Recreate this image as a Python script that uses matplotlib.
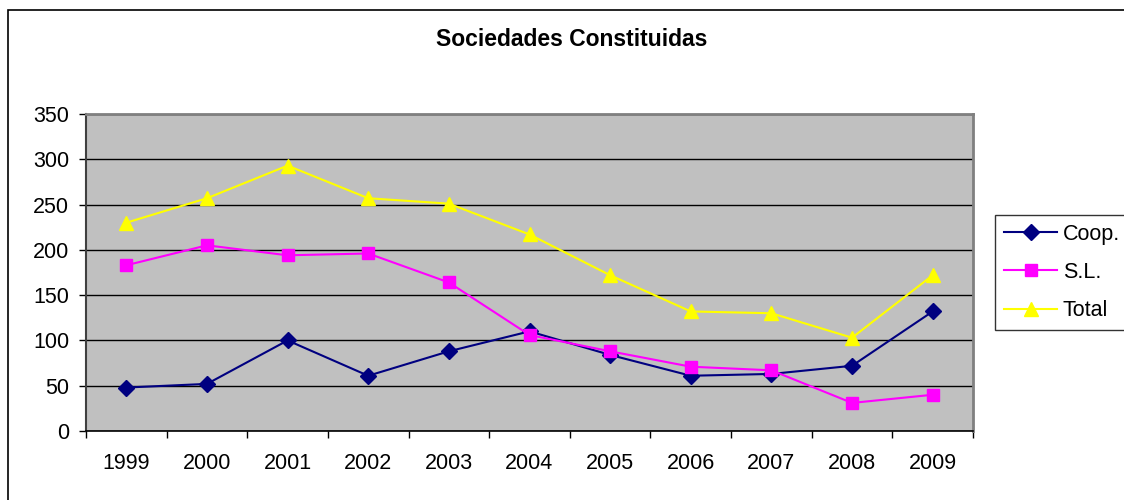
import matplotlib
matplotlib.use('Agg')
import matplotlib.pyplot as plt
from matplotlib.patches import Rectangle

plt.rcParams['font.family'] = ['Liberation Sans', 'DejaVu Sans']

years = ['1999', '2000', '2001', '2002', '2003', '2004', '2005', '2006', '2007', '2008', '2009']
coop = [48, 52, 100, 61, 88, 110, 84, 61, 63, 72, 132]
sl = [183, 205, 194, 196, 164, 106, 88, 71, 67, 31, 40]
total = [230, 257, 293, 257, 251, 217, 172, 132, 130, 103, 172]

fig = plt.figure(figsize=(11.24, 5), dpi=100)
# outer chart frame (cut by the picture on right and bottom)
fig.patches.append(Rectangle((8 / 1124, -0.05), 1.2, 1 - 10 / 500 + 0.05,
                             transform=fig.transFigure, fill=False,
                             edgecolor='black', linewidth=1.2))

ax = fig.add_axes([86 / 1124, 1 - 431 / 500, 887 / 1124, 317 / 500])
ax.set_facecolor('#c0c0c0')

x = list(range(len(years)))
ax.plot(x, coop, color='#000080', marker='D', markersize=8, linewidth=1.5, label='Coop.', zorder=3)
ax.plot(x, sl, color='#ff00ff', marker='s', markersize=8.5, linewidth=1.5, label='S.L.', zorder=3)
ax.plot(x, total, color='#ffff00', marker='^', markersize=10, linewidth=1.5, label='Total', zorder=3)

ax.set_xlim(-0.5, len(years) - 0.5)
ax.set_ylim(0, 350)
ax.set_yticks(range(0, 351, 50))
ax.yaxis.grid(True, color='black', linewidth=1)
ax.set_axisbelow(True)

ax.set_xticks([i - 0.5 for i in range(len(years) + 1)])
ax.set_xticklabels([])
ax.set_xticks(x, minor=True)
ax.set_xticklabels(years, minor=True)
ax.tick_params(axis='x', which='major', direction='out', length=5, width=1, color='black')
ax.tick_params(axis='x', which='minor', length=0, pad=16, labelsize=15.5)
ax.tick_params(axis='y', direction='out', length=5, width=1, pad=7, labelsize=15.5)

for s in ['top', 'right']:
    ax.spines[s].set_color('#808080')
    ax.spines[s].set_linewidth(2)
ax.spines['left'].set_color('#404040')
ax.spines['left'].set_linewidth(1.5)
ax.spines['bottom'].set_color('black')
ax.spines['bottom'].set_linewidth(1.2)

fig.text(572 / 1124, 1 - 40 / 500, 'Sociedades Constituidas', ha='center', va='center',
         fontsize=16.5, fontweight='bold')

leg = fig.legend(loc='upper left', bbox_to_anchor=(995 / 1124, 1 - 215 / 500),
                 fontsize=15.5, frameon=True, fancybox=False, numpoints=1,
                 handlelength=2.5, handletextpad=0.25, labelspacing=0.8,
                 borderpad=0.4, borderaxespad=0)
leg.get_frame().set_edgecolor('black')
leg.get_frame().set_linewidth(1)

fig.savefig('out.png', dpi=100)
